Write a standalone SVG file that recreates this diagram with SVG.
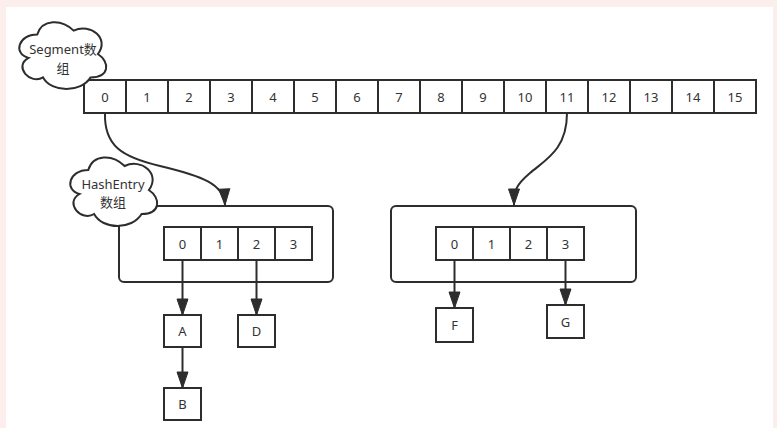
<svg xmlns="http://www.w3.org/2000/svg" width="777" height="428" viewBox="0 0 777 428">
<style>
.b{fill:#fff;stroke:#2d2d2d;stroke-width:2}
.n{fill:none;stroke:#2d2d2d;stroke-width:2}
.t{font-family:"Noto Sans","Noto Sans CJK SC",sans-serif;font-size:13px;fill:#333;text-anchor:middle}
.c{fill:none;stroke:#2d2d2d;stroke-width:2}
</style>
<defs>
<marker id="ah" markerUnits="userSpaceOnUse" markerWidth="18" markerHeight="14" viewBox="0 0 18 14" refX="16" refY="7" orient="auto" overflow="visible">
<path d="M0,1.5 L16,7 L0,12.5 Z" fill="#2d2d2d" stroke="#2d2d2d" stroke-width="1"/>
</marker>
</defs>
<rect x="0" y="0" width="777" height="428" fill="#fdeeee"/>
<rect x="6" y="7" width="767" height="421" fill="#fff"/>

<g id="segment-array">
<rect class="b" x="84" y="80" width="672" height="33"/>
<path class="n" d="M126,80V113M168,80V113M210,80V113M252,80V113M294,80V113M336,80V113M378,80V113M420,80V113M462,80V113M504,80V113M546,80V113M588,80V113M630,80V113M672,80V113M714,80V113"/>
<g class="t">
<text x="105" y="102">0</text><text x="147" y="102">1</text><text x="189" y="102">2</text><text x="231" y="102">3</text>
<text x="273" y="102">4</text><text x="315" y="102">5</text><text x="357" y="102">6</text><text x="399" y="102">7</text>
<text x="441" y="102">8</text><text x="483" y="102">9</text><text x="525" y="102">10</text><text x="567" y="102">11</text>
<text x="609" y="102">12</text><text x="651" y="102">13</text><text x="693" y="102">14</text><text x="735" y="102">15</text>
</g>
</g>

<g id="segment-cloud">
<path class="b" d="M37.25,34.5 C17.85,34.5 13,54 28.52,57.9 C13,66.48 30.46,85.2 43.07,77.4 C51.8,93 80.9,93 90.6,77.4 C110,77.4 110,61.8 97.875,54 C110,38.4 90.6,22.8 73.625,30.6 C61.5,18.9 42.1,18.9 37.25,34.5 Z"/>
<text class="t" x="63" y="54">Segment数</text>
<text class="t" x="63" y="73">组</text>
</g>

<g id="hashentry-left">
<rect class="b" x="119" y="206" width="214" height="76" rx="5"/>
<rect class="b" x="164" y="227" width="148" height="33"/>
<path class="n" d="M201,227V260M238,227V260M275,227V260"/>
<g class="t">
<text x="182.5" y="249">0</text><text x="219.5" y="249">1</text><text x="256.5" y="249">2</text><text x="293.5" y="249">3</text>
</g>
</g>

<g id="hashentry-cloud">
<path class="b" d="M88.25,170 C68.85,170 64,190 79.52,194 C64,202.8 81.46,222 94.07,214 C102.8,230 131.9,230 141.6,214 C161,214 161,198 148.875,190 C161,174 141.6,158 124.625,166 C112.5,154 93.1,154 88.25,170 Z"/>
<text class="t" x="113" y="189">HashEntry</text>
<text class="t" x="113" y="207">数组</text>
</g>

<g id="hashentry-right">
<rect class="b" x="391" y="206" width="245" height="76" rx="5"/>
<rect class="b" x="436" y="227" width="148" height="33"/>
<path class="n" d="M473,227V260M510,227V260M547,227V260"/>
<g class="t">
<text x="454.5" y="249">0</text><text x="491.5" y="249">1</text><text x="528.5" y="249">2</text><text x="565.5" y="249">3</text>
</g>
</g>

<g id="node-A"><rect class="b" x="164" y="315" width="37" height="32"/><text class="t" x="182.5" y="336">A</text></g>
<g id="node-B"><rect class="b" x="164" y="388" width="37" height="32"/><text class="t" x="182.5" y="409">B</text></g>
<g id="node-D"><rect class="b" x="238" y="315" width="37" height="32"/><text class="t" x="256.5" y="336">D</text></g>
<g id="node-F"><rect class="b" x="436" y="308" width="37" height="34"/><text class="t" x="454.5" y="330">F</text></g>
<g id="node-G"><rect class="b" x="547" y="305" width="37" height="33"/><text class="t" x="565.5" y="327">G</text></g>

<g id="connectors">
<path class="c" marker-end="url(#ah)" d="M105,113 C104,146 122,157 160,166 C202,176 224,184 225,205"/>
<path class="c" marker-end="url(#ah)" d="M567,113 C567,150 545,160 530,173 C516,185 514,190 514,205"/>
<path class="c" marker-end="url(#ah)" d="M182.5,260 V315"/>
<path class="c" marker-end="url(#ah)" d="M256.5,260 V315"/>
<path class="c" marker-end="url(#ah)" d="M182.5,347 V388"/>
<path class="c" marker-end="url(#ah)" d="M454.5,260 V308"/>
<path class="c" marker-end="url(#ah)" d="M565.5,260 V305"/>
</g>
</svg>
